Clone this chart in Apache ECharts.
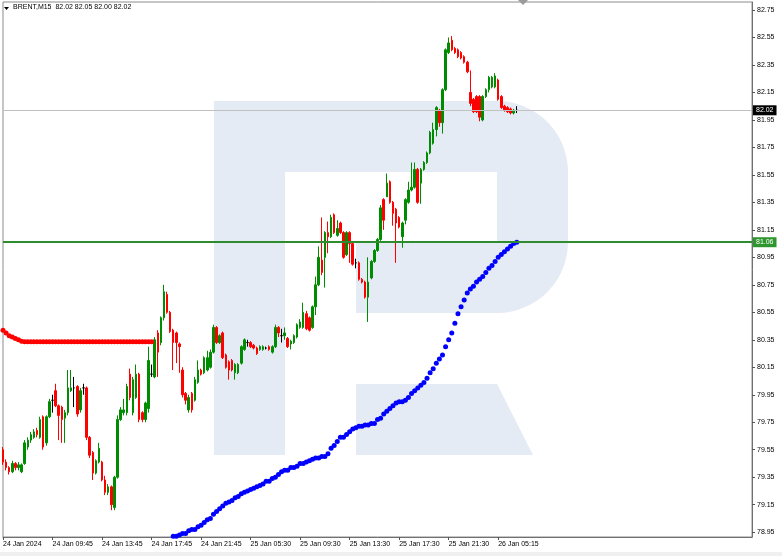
<!DOCTYPE html>
<html>
<head>
<meta charset="utf-8">
<script src="https://cdn.jsdelivr.net/npm/echarts@6/dist/echarts.min.js"></script>
<style>html,body{margin:0;padding:0;background:#fff}#c{width:782px;height:556px}</style>
</head>
<body>
<div id="c"></div>
<script>
// ---- data (BRENT, M15) ----
const opens = [79.55,79.46,79.42,79.39,79.45,79.42,79.39,79.45,79.57,79.62,79.64,79.69,79.64,79.79,79.60,79.79,79.91,79.98,79.87,79.86,79.78,79.82,79.98,80.00,80.01,79.84,80.00,80.00,79.64,79.53,79.38,79.46,79.46,79.33,79.24,79.28,79.13,79.35,79.77,79.82,79.82,
80.10,79.82,79.93,80.10,79.82,79.77,79.85,80.10,80.08,80.40,80.33,80.51,80.68,80.55,80.42,80.40,80.32,80.13,79.96,79.84,79.96,79.91,80.04,80.13,80.11,80.13,80.15,80.26,80.44,80.33,80.40,80.24,80.19,80.20,80.11,80.11,80.18,80.28,80.33,80.33,80.31,
80.29,80.28,80.28,80.29,80.30,80.26,80.30,80.44,80.38,80.38,80.36,80.32,80.33,80.37,80.44,80.44,80.54,80.51,80.44,80.59,80.75,80.93,80.95,81.13,81.10,81.26,81.11,81.20,81.13,80.97,81.13,81.05,80.91,80.91,80.79,80.77,80.66,80.80,80.92,81.00,81.08,81.37,
81.39,81.50,81.35,81.30,81.24,81.10,81.22,81.35,81.44,81.46,81.59,81.49,81.59,81.64,81.71,81.78,81.88,82.02,81.93,82.17,82.44,82.53,82.47,82.46,82.44,82.41,82.37,82.15,82.10,82.12,82.12,81.95,82.12,82.17,82.19,82.19,82.24,82.12,82.05,82.04,82.03,82.00,82.02];
const closes = [79.46,79.42,79.39,79.45,79.42,79.44,79.44,79.60,79.62,79.66,79.68,79.66,79.77,79.57,79.79,79.90,79.91,79.87,79.80,79.77,79.82,80.00,80.00,80.00,79.81,79.98,80.00,79.64,79.51,79.38,79.47,79.56,79.33,79.24,79.28,79.15,79.35,79.77,79.84,79.84,80.01,
79.93,80.06,80.10,79.77,79.77,79.89,80.20,80.10,80.35,80.26,80.51,80.70,80.55,80.41,80.33,80.33,80.30,79.95,79.91,79.93,79.84,80.06,80.13,80.10,80.22,80.22,80.26,80.44,80.33,80.38,80.22,80.15,80.13,80.13,80.17,80.17,80.30,80.35,80.33,80.30,80.29,
80.25,80.30,80.30,80.29,80.28,80.30,80.44,80.40,80.38,80.40,80.30,80.34,80.38,80.46,80.48,80.55,80.43,80.42,80.59,80.75,80.95,80.84,81.13,81.10,81.24,81.13,81.16,81.13,80.95,81.13,81.05,80.90,80.91,80.79,80.77,80.66,80.77,80.92,81.00,81.08,81.31,81.22,
81.49,81.35,81.27,81.20,81.17,81.20,81.37,81.44,81.46,81.59,81.35,81.59,81.64,81.71,81.86,81.88,82.04,81.93,82.17,82.46,82.51,82.46,82.44,82.41,82.40,82.37,82.30,82.07,82.01,82.01,81.97,82.12,82.17,82.26,82.26,82.27,82.10,82.04,82.02,82.01,82.00,82.02,82.02];
const lows = [79.44,79.40,79.37,79.38,79.40,79.40,79.38,79.44,79.55,79.60,79.63,79.64,79.63,79.55,79.58,79.78,79.82,79.86,79.62,79.60,79.60,79.80,79.97,79.86,79.79,79.82,79.95,79.62,79.49,79.33,79.37,79.45,79.32,79.22,79.22,79.11,79.11,79.34,79.76,79.80,79.80,
79.91,79.80,79.92,79.75,79.75,79.75,79.82,80.08,80.07,80.08,80.31,80.49,80.54,80.40,80.13,80.18,80.11,79.93,79.88,79.82,79.82,79.90,80.03,80.09,80.10,80.12,80.14,80.25,80.32,80.32,80.21,80.14,80.06,80.12,80.06,80.10,80.17,80.27,80.30,80.29,80.28,
80.24,80.27,80.27,80.28,80.27,80.25,80.29,80.37,80.33,80.35,80.29,80.28,80.32,80.36,80.43,80.43,80.42,80.41,80.43,80.53,80.74,80.82,80.73,80.98,81.09,81.12,81.10,81.12,80.94,80.96,80.91,80.89,80.87,80.78,80.76,80.65,80.48,80.79,80.91,80.99,81.07,81.15,
81.39,81.34,81.18,80.91,81.16,81.02,81.19,81.34,81.43,81.45,81.34,81.34,81.58,81.63,81.70,81.77,81.83,81.90,81.85,82.16,82.43,82.45,82.43,82.40,82.39,82.36,82.29,82.05,82.00,82.00,81.94,81.94,82.11,82.15,82.18,82.18,82.09,82.03,82.01,82.00,81.99,81.99,82.00];
const highs = [79.57,79.48,79.43,79.47,79.46,79.46,79.45,79.62,79.64,79.68,79.70,79.71,79.79,79.80,79.80,79.92,79.95,80.03,79.88,79.87,79.84,80.13,80.13,80.08,80.02,80.00,80.03,80.01,79.65,79.54,79.48,79.60,79.47,79.36,79.30,79.29,79.36,79.80,79.86,79.92,80.03,
80.14,80.08,80.17,80.11,79.83,79.90,80.30,80.17,80.37,80.42,80.52,80.75,80.70,80.56,80.43,80.41,80.33,80.15,79.97,79.95,79.97,80.08,80.20,80.14,80.23,80.27,80.28,80.46,80.45,80.39,80.41,80.25,80.20,80.21,80.18,80.18,80.31,80.36,80.35,80.34,80.32,
80.30,80.31,80.31,80.30,80.31,80.31,80.46,80.45,80.43,80.44,80.37,80.35,80.39,80.47,80.50,80.62,80.56,80.52,80.60,80.81,81.03,81.24,81.14,81.21,81.26,81.27,81.22,81.21,81.14,81.14,81.14,81.06,80.94,80.92,80.80,80.78,80.95,80.93,81.01,81.09,81.33,81.38,
81.56,81.51,81.36,81.31,81.25,81.21,81.38,81.50,81.64,81.64,81.60,81.60,81.65,81.72,81.87,81.93,82.05,82.03,82.18,82.47,82.55,82.56,82.48,82.47,82.45,82.42,82.38,82.31,82.11,82.13,82.13,82.13,82.18,82.27,82.27,82.29,82.25,82.13,82.06,82.05,82.04,82.03,82.05];

// red dotted indicator (bars 0..48)
const redDots = [80.42,80.40,80.38,80.37,80.36,80.35,80.34,
80.335,80.335,80.335,80.335,80.335,80.335,80.335,80.335,80.335,80.335,80.335,80.335,80.335,80.335,
80.335,80.335,80.335,80.335,80.335,80.335,80.335,80.335,80.335,80.335,80.335,80.335,80.335,80.335,
80.335,80.335,80.335,80.335,80.335,80.335,80.335,80.335,80.335,80.335,80.335,80.335,80.335,80.335];
// blue dotted indicator (starts at bar 54)
const blueStart = 54;
const blueDots = [78.91,78.92,78.92,78.93,78.94,78.94,78.96,78.97,78.97,78.99,79.00,79.02,79.04,79.05,79.08,79.10,79.12,79.14,79.16,79.17,
79.18,79.20,79.21,79.23,79.24,79.25,79.26,79.27,79.28,79.29,79.30,79.32,79.32,79.34,79.35,79.37,79.39,79.40,79.40,79.42,
79.42,79.43,79.45,79.45,79.46,79.47,79.48,79.49,79.49,79.50,79.50,79.52,79.56,79.58,79.61,79.64,79.64,79.66,79.68,79.70,
79.71,79.72,79.72,79.73,79.73,79.74,79.74,79.77,79.78,79.81,79.83,79.85,79.87,79.89,79.90,79.90,79.91,79.93,79.96,79.98,
80.00,80.02,80.04,80.07,80.11,80.14,80.18,80.21,80.24,80.30,80.35,80.40,80.47,80.54,80.59,80.64,80.69,80.72,80.74,80.77,
80.79,80.81,80.84,80.87,80.89,80.92,80.95,80.97,80.99,81.01,81.03,81.05,81.06];

const timeLabels = ["24 Jan 2024","24 Jan 09:45","24 Jan 13:45","24 Jan 17:45","24 Jan 21:45","25 Jan 05:30","25 Jan 09:30","25 Jan 13:30","25 Jan 17:30","25 Jan 21:30","26 Jan 05:15"];
const labelEvery = 16;
const totalSlots = 243;
const priceTicks = [78.95,79.15,79.35,79.55,79.75,79.95,80.15,80.35,80.55,80.75,80.95,81.15,81.35,81.55,81.75,81.95,82.15,82.35,82.55,82.75];
const bidPrice = 82.02;
const levelPrice = 81.06;
const headerText = "BRENT,M15  82.02 82.05 82.00 82.02";

// ---- build ----
const cats = [];
for (let i = 0; i < totalSlots; i++) {
  const k = i / labelEvery;
  cats.push(i % labelEvery === 0 && k < timeLabels.length ? timeLabels[k] : '');
}
const candles = opens.map((o, i) => [o, closes[i], lows[i], highs[i]]);
const redData = redDots.map((v, i) => [i, v]);
const blueData = blueDots.map((v, i) => [i + blueStart, v]);
const showCat = (idx, val) => val !== '';
const FONT = 'Liberation Sans';
const WM = '#e5ebf4';

// watermark outline (logo shape, pixel geometry)
function arcPts(cx, cy, r, a0, a1, n) {
  const p = [];
  for (let k = 0; k <= n; k++) {
    const a = (a0 + (a1 - a0) * k / n) * Math.PI / 180;
    p.push([cx + r * Math.cos(a), cy + r * Math.sin(a)]);
  }
  return p;
}
const bowl = [[214,101],[497,101]]
  .concat(arcPts(497, 172, 71, -90, 0, 16))
  .concat(arcPts(497, 242, 71, 0, 90, 16))
  .concat([[356,313],[356,242],[497,242],[497,172],[285,172],[285,455],[214,455]]);

const chart = echarts.init(document.getElementById('c'), null, {renderer: 'canvas'});
chart.setOption({
  animation: false,
  backgroundColor: '#ffffff',
  grid: {left: 3, right: 30, top: 2, bottom: 19, show: true, borderColor: '#8c8c8c', borderWidth: 1, backgroundColor: 'transparent'},
  xAxis: {
    type: 'category', data: cats, boundaryGap: false,
    axisLine: {lineStyle: {color: '#707070'}},
    axisTick: {interval: showCat, length: 3, lineStyle: {color: '#555'}},
    axisLabel: {interval: showCat, align: 'left', fontSize: 7, fontFamily: FONT, color: '#000', margin: 4},
    splitLine: {show: false}
  },
  yAxis: {
    type: 'value', position: 'right', min: 78.915, max: 82.808, scale: true,
    axisLine: {show: true, lineStyle: {color: '#707070'}},
    axisTick: {show: true, length: 3, customValues: priceTicks, lineStyle: {color: '#555'}},
    axisLabel: {customValues: priceTicks, formatter: v => Number(v).toFixed(2), fontSize: 7, fontFamily: FONT, color: '#000', margin: 5},
    splitLine: {show: false}
  },
  graphic: [
    {type: 'polygon', z: -10, silent: true, shape: {points: bowl}, style: {fill: WM}},
    {type: 'polygon', z: -10, silent: true, shape: {points: [[356,384],[497,384],[533,455],[356,455]]}, style: {fill: WM}},
    {type: 'polygon', z: 10, silent: true, shape: {points: [[4,7],[9,7],[6.5,10]]}, style: {fill: '#000'}},
    {type: 'text', z: 10, silent: true, x: 13, y: 4, style: {text: headerText, fontSize: 7, fontFamily: FONT, fill: '#000'}},
    {type: 'polygon', z: 10, silent: true, shape: {points: [[518,0],[528,0],[523,5]]}, style: {fill: '#9a9a9a'}},
    {type: 'rect', z: -10, silent: true, shape: {x: 0, y: 552, width: 782, height: 4}, style: {fill: '#f0f0f0'}}
  ],
  series: [
    {
      type: 'candlestick', data: candles, barWidth: 2,
      itemStyle: {color: '#008c00', color0: '#ff0000', borderColor: '#008c00', borderColor0: '#ff0000', borderColorDoji: '#000000', borderWidth: 1},
      markLine: {
        silent: true, symbol: ['none', 'none'], animation: false,
        data: [
          {yAxis: bidPrice, lineStyle: {color: '#c0c0c0', width: 1, type: 'solid'},
           label: {position: 'end', distance: 1, formatter: bidPrice.toFixed(2), backgroundColor: '#000', color: '#fff', fontSize: 7, fontFamily: FONT, padding: [2, 3, 1, 3]}},
          {yAxis: levelPrice, lineStyle: {color: '#2e8b2e', width: 2, type: 'solid'},
           label: {position: 'end', distance: 1, formatter: levelPrice.toFixed(2), backgroundColor: '#2e962e', color: '#fff', fontSize: 7, fontFamily: FONT, padding: [2, 3, 1, 3]}}
        ]
      }
    },
    {type: 'scatter', data: redData, symbolSize: 5, itemStyle: {color: '#ff0000', opacity: 1}, z: 3},
    {type: 'scatter', data: blueData, symbolSize: 5, itemStyle: {color: '#0000ff', opacity: 1}, z: 3}
  ]
});
</script>
</body>
</html>
